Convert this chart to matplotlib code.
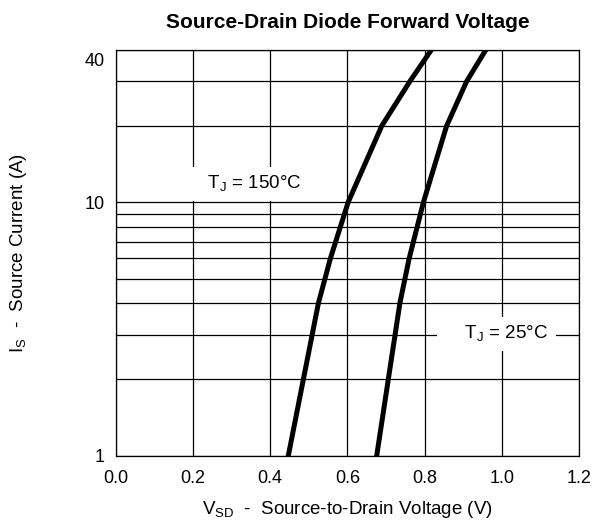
import matplotlib
matplotlib.use("Agg")
import matplotlib.pyplot as plt
import matplotlib.transforms as mtransforms
from matplotlib.ticker import FixedLocator, NullFormatter

plt.rcParams['font.family'] = ['Liberation Sans', 'DejaVu Sans']
plt.rcParams['mathtext.fontset'] = 'custom'
plt.rcParams['mathtext.rm'] = 'Liberation Sans'

# diode forward curves
current = [1, 4, 6, 10, 20, 30, 40]
vsd_150 = [0.447, 0.525, 0.556, 0.602, 0.689, 0.762, 0.818]
vsd_25 = [0.676, 0.736, 0.760, 0.797, 0.857, 0.909, 0.959]

x_ticks = [0.0, 0.2, 0.4, 0.6, 0.8, 1.0, 1.2]
y_major = [1, 10, 40]
y_grid = [2, 3, 4, 5, 6, 7, 8, 9, 20, 30]

fig = plt.figure(figsize=(5.94, 5.24), dpi=100)
ax = fig.add_axes([0.1948, 0.1303, 0.78, 0.775])

ax.set_yscale('log')
ax.set_xlim(0, 1.2)
ax.set_ylim(1, 40)

ax.set_xticks(x_ticks)
ax.set_xticklabels(['%.1f' % v for v in x_ticks])
ax.yaxis.set_major_locator(FixedLocator(y_major))
ax.set_yticklabels([str(v) for v in y_major])
ax.yaxis.set_minor_locator(FixedLocator(y_grid))
ax.yaxis.set_minor_formatter(NullFormatter())

ax.grid(True, which='both', color='black', linewidth=0.9)
ax.tick_params(which='both', length=0, labelsize=13)
ax.tick_params(axis='x', pad=10)
ax.tick_params(axis='y', pad=8)
for s in ax.spines.values():
    s.set_linewidth(0.9)

# the top label "40" sits a little below its grid line
shift = mtransforms.ScaledTranslation(0, -7 / 72, fig.dpi_scale_trans)
ax.get_yticklabels()[-1].set_transform(ax.get_yticklabels()[-1].get_transform() + shift)

ax.plot(vsd_150, current, color='black', linewidth=3.6, solid_joinstyle='miter', zorder=3)
ax.plot(vsd_25, current, color='black', linewidth=3.6, solid_joinstyle='miter', zorder=3)

box = dict(facecolor='white', edgecolor='none', pad=5)
ax.text(0.353, 11.28, r'   T$_\mathregular{J}$ = 150$\degree$C   ', fontsize=13.5,
        ha='center', va='baseline', bbox=box, zorder=4)
ax.text(0.850, 2.887, r'    T$_\mathregular{J}$ = 25$\degree$C ', fontsize=13.5,
        ha='left', va='baseline', bbox=box, zorder=4)

ax.set_title('Source-Drain Diode Forward Voltage', fontsize=15, fontweight='bold', pad=15.5)
ax.set_xlabel(r'V$_\mathregular{SD}$  -  Source-to-Drain Voltage (V)', fontsize=13.5, labelpad=9)
ax.set_ylabel(r'I$_\mathregular{S}$  -  Source Current (A)', fontsize=13.5, labelpad=40)

fig.savefig('out.png', dpi=100)
